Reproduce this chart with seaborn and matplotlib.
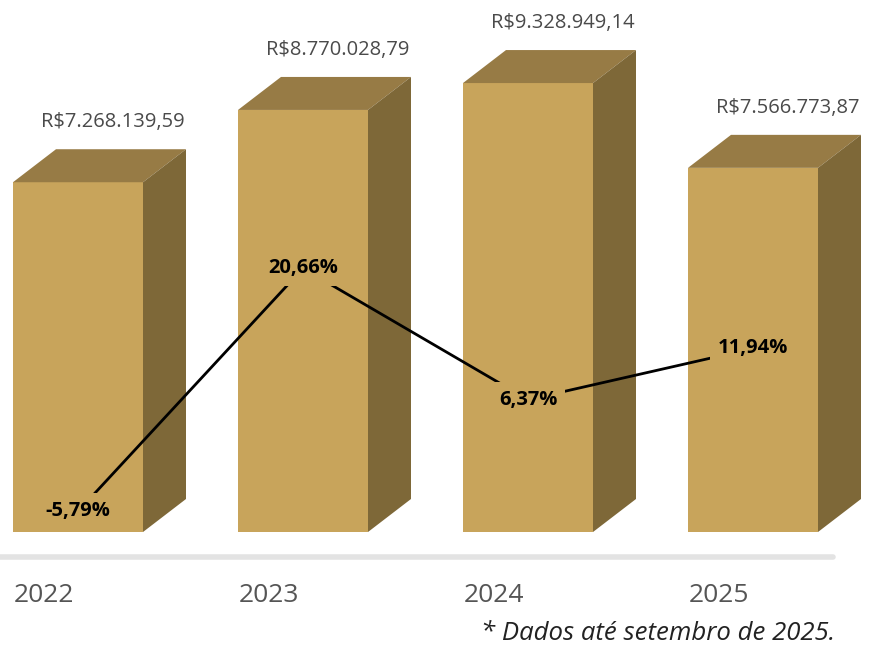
import numpy as np
import matplotlib
matplotlib.use('Agg')
import matplotlib.pyplot as plt
from matplotlib.patches import Polygon
import seaborn as sns

years = ['2022', '2023', '2024', '2025']
values = [7268139.59, 8770028.79, 9328949.14, 7566773.87]
growth = [-5.79, 20.66, 6.37, 11.94]
footnote = '* Dados até setembro de 2025.'

FRONT = '#c8a45b'
TOP = '#977b45'
SIDE = '#7e6838'


def brl(v):
    s = f'{v:,.2f}'
    return 'R$' + s.replace(',', 'X').replace('.', ',').replace('X', '.')


def pct(p):
    return f'{p:.2f}'.replace('.', ',') + '%'


sns.set_style('white')
plt.rcParams['font.family'] = ['Open Sans', 'DejaVu Sans']

fig = plt.figure(figsize=(8.84, 6.48), dpi=100)
ax = fig.add_axes([0, 0, 1, 1])

# pixel -> data scales
px_x = 225.0          # px per category step
px_y = 449.0 / 9.33e6  # px per real
bw = 130 / px_x
dx = 43 / px_x
dy = 33 / px_y

sns.barplot(x=years, y=values, ax=ax, color=FRONT, saturation=1, width=bw,
            linewidth=0)

for i, v in enumerate(values):
    l, r = i - bw / 2, i + bw / 2
    ax.add_patch(Polygon([(l, v), (r, v), (r + dx, v + dy), (l + dx, v + dy)],
                         closed=True, facecolor=TOP, edgecolor='none'))
    ax.add_patch(Polygon([(r, 0), (r, v), (r + dx, v + dy), (r + dx, dy)],
                         closed=True, facecolor=SIDE, edgecolor='none'))
    ax.text(i + 0.155, v + dy + 27 / px_y, brl(v), ha='center', va='center',
            fontsize=14.5, color='#4a4a4a')
    ax.text(l + 0.005, -63 / px_y, years[i], ha='left', va='center',
            fontsize=19, color='#555555')

ax.plot([-78 / px_x, (833 - 78) / px_x], [-25 / px_y] * 2, color='#e3e3e3',
        lw=4, solid_capstyle='round')

ax.set_xlim(-78 / px_x, (884 - 78) / px_x)
ax.set_ylim(-116 / px_y, 532 / px_y)
ax.set_axis_off()

ax2 = ax.twinx()
sns.lineplot(x=np.arange(len(years)), y=growth, ax=ax2, color='black', lw=2)
for i, p in enumerate(growth):
    ax2.text(i, p, pct(p), ha='center', va='center', fontsize=14.5,
             fontweight='bold', color='black',
             bbox=dict(boxstyle='square,pad=0.4', facecolor=FRONT,
                       edgecolor='none'))
ax2.set_ylim(-189.8 / 9.19, (648 - 189.8) / 9.19)
ax2.set_xlim(-78 / px_x, (884 - 78) / px_x)
ax2.set_axis_off()

fig.text(835 / 884, 1 - 633 / 648, footnote, ha='right', va='center',
         fontsize=18.5, style='italic', color='#222222')

fig.savefig('out.png', dpi=100)
